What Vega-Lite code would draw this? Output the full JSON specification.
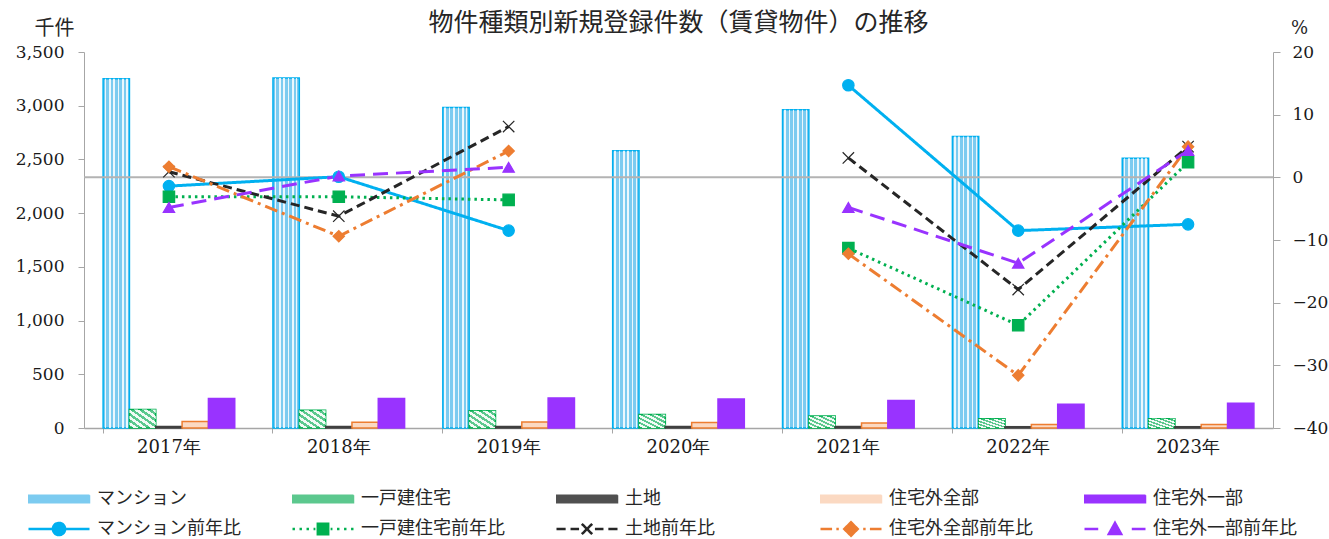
{
  "$schema": "https://vega.github.io/schema/vega-lite/v6.json",
  "width": 1189,
  "height": 376,
  "autosize": {"type": "none"},
  "padding": {"left": 84, "top": 52, "right": 56, "bottom": 111},
  "background": "white",
  "title": {"text": "物件種類別新規登録件数（賃貸物件）の推移", "font": "Noto Sans CJK JP", "fontSize": 25, "fontWeight": "normal", "color": "#262626", "anchor": "middle", "offset": 10, "dy": 28},
  "config": {"view": {"stroke": null}, "axis": {"grid": false}},
  "datasets": {
    "bars": [
      {"year": "2017年", "series": "マンション", "value": 3251},
      {"year": "2017年", "series": "一戸建住宅", "value": 172},
      {"year": "2017年", "series": "土地", "value": 15},
      {"year": "2017年", "series": "住宅外全部", "value": 60},
      {"year": "2017年", "series": "住宅外一部", "value": 274},
      {"year": "2018年", "series": "マンション", "value": 3258},
      {"year": "2018年", "series": "一戸建住宅", "value": 166},
      {"year": "2018年", "series": "土地", "value": 14},
      {"year": "2018年", "series": "住宅外全部", "value": 54},
      {"year": "2018年", "series": "住宅外一部", "value": 275},
      {"year": "2019年", "series": "マンション", "value": 2984},
      {"year": "2019年", "series": "一戸建住宅", "value": 160},
      {"year": "2019年", "series": "土地", "value": 15},
      {"year": "2019年", "series": "住宅外全部", "value": 56},
      {"year": "2019年", "series": "住宅外一部", "value": 280},
      {"year": "2020年", "series": "マンション", "value": 2580},
      {"year": "2020年", "series": "一戸建住宅", "value": 125},
      {"year": "2020年", "series": "土地", "value": 14},
      {"year": "2020年", "series": "住宅外全部", "value": 52},
      {"year": "2020年", "series": "住宅外一部", "value": 270},
      {"year": "2021年", "series": "マンション", "value": 2962},
      {"year": "2021年", "series": "一戸建住宅", "value": 111},
      {"year": "2021年", "series": "土地", "value": 14},
      {"year": "2021年", "series": "住宅外全部", "value": 46},
      {"year": "2021年", "series": "住宅外一部", "value": 257},
      {"year": "2022年", "series": "マンション", "value": 2713},
      {"year": "2022年", "series": "一戸建住宅", "value": 85},
      {"year": "2022年", "series": "土地", "value": 12},
      {"year": "2022年", "series": "住宅外全部", "value": 32},
      {"year": "2022年", "series": "住宅外一部", "value": 222},
      {"year": "2023年", "series": "マンション", "value": 2512},
      {"year": "2023年", "series": "一戸建住宅", "value": 87},
      {"year": "2023年", "series": "土地", "value": 12},
      {"year": "2023年", "series": "住宅外全部", "value": 33},
      {"year": "2023年", "series": "住宅外一部", "value": 231}
    ],
    "ratios": [
      {"year": "2017年", "period": "A", "series": "マンション前年比", "value": -1.4},
      {"year": "2017年", "period": "A", "series": "一戸建住宅前年比", "value": -3.1},
      {"year": "2017年", "period": "A", "series": "土地前年比", "value": 0.9},
      {"year": "2017年", "period": "A", "series": "住宅外全部前年比", "value": 1.7},
      {"year": "2017年", "period": "A", "series": "住宅外一部前年比", "value": -4.8},
      {"year": "2018年", "period": "A", "series": "マンション前年比", "value": 0.1},
      {"year": "2018年", "period": "A", "series": "一戸建住宅前年比", "value": -3.1},
      {"year": "2018年", "period": "A", "series": "土地前年比", "value": -6.2},
      {"year": "2018年", "period": "A", "series": "住宅外全部前年比", "value": -9.4},
      {"year": "2018年", "period": "A", "series": "住宅外一部前年比", "value": 0.2},
      {"year": "2019年", "period": "A", "series": "マンション前年比", "value": -8.5},
      {"year": "2019年", "period": "A", "series": "一戸建住宅前年比", "value": -3.6},
      {"year": "2019年", "period": "A", "series": "土地前年比", "value": 8.1},
      {"year": "2019年", "period": "A", "series": "住宅外全部前年比", "value": 4.2},
      {"year": "2019年", "period": "A", "series": "住宅外一部前年比", "value": 1.6},
      {"year": "2021年", "period": "B", "series": "マンション前年比", "value": 14.7},
      {"year": "2021年", "period": "B", "series": "一戸建住宅前年比", "value": -11.3},
      {"year": "2021年", "period": "B", "series": "土地前年比", "value": 3.1},
      {"year": "2021年", "period": "B", "series": "住宅外全部前年比", "value": -12.2},
      {"year": "2021年", "period": "B", "series": "住宅外一部前年比", "value": -4.8},
      {"year": "2022年", "period": "B", "series": "マンション前年比", "value": -8.5},
      {"year": "2022年", "period": "B", "series": "一戸建住宅前年比", "value": -23.6},
      {"year": "2022年", "period": "B", "series": "土地前年比", "value": -17.9},
      {"year": "2022年", "period": "B", "series": "住宅外全部前年比", "value": -31.6},
      {"year": "2022年", "period": "B", "series": "住宅外一部前年比", "value": -13.7},
      {"year": "2023年", "period": "B", "series": "マンション前年比", "value": -7.5},
      {"year": "2023年", "period": "B", "series": "一戸建住宅前年比", "value": 2.4},
      {"year": "2023年", "period": "B", "series": "土地前年比", "value": 4.9},
      {"year": "2023年", "period": "B", "series": "住宅外全部前年比", "value": 4.9},
      {"year": "2023年", "period": "B", "series": "住宅外一部前年比", "value": 4.3}
    ]
  },
  "layer": [
    {
      "data": {"name": "bars"},
      "encoding": {
        "x": {"field": "year", "type": "nominal", "sort": null,
          "scale": {"paddingInner": 0.225, "paddingOuter": 0.1125},
          "axis": {"title": null, "labelAngle": 0, "labelFont": "DejaVu Serif", "labelFontSize": 18, "labelColor": "#1a1a1a", "ticks": false, "domainColor": "#a6a6a6", "domainWidth": 1.5, "labelPadding": 10}},
        "xOffset": {"field": "series", "type": "nominal",
          "scale": {"domain": ["マンション", "一戸建住宅", "土地", "住宅外全部", "住宅外一部"], "paddingInner": 0, "paddingOuter": 0}},
        "y": {"field": "value", "type": "quantitative",
          "scale": {"domain": [0, 3500], "nice": false},
          "axis": {"title": "千件", "titleAngle": 0, "titleFont": "Noto Sans CJK JP", "titleFontSize": 20, "titleFontWeight": "normal", "titleColor": "#262626", "titleX": -30, "titleY": -24, "titleAlign": "center", "titleBaseline": "middle",
            "values": [0, 500, 1000, 1500, 2000, 2500, 3000, 3500], "format": ",.0f", "labelFont": "DejaVu Serif", "labelFontSize": 17, "labelColor": "#1a1a1a", "tickSize": 6, "tickColor": "#a6a6a6", "domainColor": "#a6a6a6", "labelPadding": 14}}
      },
      "layer": [
        {
          "mark": {"type": "bar", "strokeWidth": 1.5},
          "encoding": {
            "color": {"field": "series", "type": "nominal",
              "scale": {"domain": ["マンション", "一戸建住宅", "土地", "住宅外全部", "住宅外一部", "マンション前年比", "一戸建住宅前年比", "土地前年比", "住宅外全部前年比", "住宅外一部前年比"],
                        "range": ["#7ccbf0", "#5cc88e", "#505050", "#fbd9c2", "#9933ff", "#00b0f0", "#00b050", "#262626", "#ed7d31", "#9933ff"]},
              "legend": {"title": null, "orient": "none", "legendX": -56, "legendY": 435, "direction": "horizontal", "columns": 5, "gridAlign": "all",
                "clipHeight": 24, "rowPadding": 6, "columnPadding": 51, "labelOffset": 51, "padding": 0,
                "labelFont": "Noto Sans CJK JP", "labelFontSize": 18, "labelColor": "#262626", "labelLimit": 300,
                "encode": {"symbols": {
                  "update": {
                  "x": {"value": 31},
                  "size": {"value": 3721},
                  "shape": {"signal": "['M-1,-0.12H1V0.12H-1Z','M-1,-0.12H1V0.12H-1Z','M-1,-0.12H1V0.12H-1Z','M-1,-0.12H1V0.12H-1Z','M-1,-0.12H1V0.12H-1Z','M-1,0H1M-0.2,0A0.2,0.2,0,1,1,0.2,0A0.2,0.2,0,1,1,-0.2,0Z','M-1,0H-0.92M-0.77,0H-0.69M-0.54,0H-0.46M-0.31,0H-0.25M0.25,0H0.31M0.46,0H0.54M0.69,0H0.77M0.92,0H1M-0.17,-0.17H0.17V0.17H-0.17Z','M-1,0H-0.7M-0.54,0H-0.26M0.26,0H0.54M0.7,0H1M-0.17,-0.17L0.17,0.17M-0.17,0.17L0.17,-0.17','M-1,0H-0.62M-0.48,0H-0.4M0.4,0H0.48M0.62,0H1M0,-0.22L0.22,0L0,0.22L-0.22,0Z','M-1,0H-0.55M0.55,0H1M0,-0.2L0.2,0.16L-0.2,0.16Z'][datum.index]"},
                  "strokeDash": {"value": [1, 0]},
                  "strokeWidth": {"signal": "datum.index < 5 ? 1.5 : 2.5"},
                  "opacity": {"value": 1},
                  "fillOpacity": {"value": 1},
                  "strokeOpacity": {"value": 1}
                }}}}},
            "stroke": {"field": "series", "type": "nominal",
              "scale": {"domain": ["マンション", "一戸建住宅", "土地", "住宅外全部", "住宅外一部", "マンション前年比", "一戸建住宅前年比", "土地前年比", "住宅外全部前年比", "住宅外一部前年比"],
                        "range": ["#00b0f0", "#00b050", "#404040", "#ed7d31", "#9933ff", "#00b0f0", "#00b050", "#262626", "#ed7d31", "#9933ff"]},
              "legend": null}
          }
        },
        {
          "transform": [{"filter": "datum.series === 'マンション'"}],
          "mark": {"type": "bar", "strokeWidth": 0,
            "fill": {"gradient": "linear", "x1": 0, "y1": 0, "x2": 1, "y2": 0, "stops": [
              {"offset": 0, "color": "rgba(255,255,255,0)"},
              {"offset": 0.06, "color": "rgba(255,255,255,0)"}, {"offset": 0.06, "color": "rgba(255,255,255,0.85)"}, {"offset": 0.12, "color": "rgba(255,255,255,0.85)"}, {"offset": 0.12, "color": "rgba(255,255,255,0)"},
              {"offset": 0.227, "color": "rgba(255,255,255,0)"}, {"offset": 0.227, "color": "rgba(255,255,255,0.85)"}, {"offset": 0.287, "color": "rgba(255,255,255,0.85)"}, {"offset": 0.287, "color": "rgba(255,255,255,0)"},
              {"offset": 0.393, "color": "rgba(255,255,255,0)"}, {"offset": 0.393, "color": "rgba(255,255,255,0.85)"}, {"offset": 0.453, "color": "rgba(255,255,255,0.85)"}, {"offset": 0.453, "color": "rgba(255,255,255,0)"},
              {"offset": 0.56, "color": "rgba(255,255,255,0)"}, {"offset": 0.56, "color": "rgba(255,255,255,0.85)"}, {"offset": 0.62, "color": "rgba(255,255,255,0.85)"}, {"offset": 0.62, "color": "rgba(255,255,255,0)"},
              {"offset": 0.727, "color": "rgba(255,255,255,0)"}, {"offset": 0.727, "color": "rgba(255,255,255,0.85)"}, {"offset": 0.787, "color": "rgba(255,255,255,0.85)"}, {"offset": 0.787, "color": "rgba(255,255,255,0)"},
              {"offset": 0.88, "color": "rgba(255,255,255,0)"}, {"offset": 0.88, "color": "rgba(255,255,255,0.85)"}, {"offset": 0.93, "color": "rgba(255,255,255,0.85)"}, {"offset": 0.93, "color": "rgba(255,255,255,0)"},
              {"offset": 1, "color": "rgba(255,255,255,0)"}]}}
        },
        {
          "transform": [{"filter": "datum.series === '一戸建住宅'"}],
          "mark": {"type": "bar", "strokeWidth": 0,
            "fill": {"gradient": "linear", "x1": 0, "y1": 1, "x2": 1, "y2": 0, "stops": [
              {"offset": 0, "color": "rgba(255,255,255,0)"}, {"offset": 0.08, "color": "rgba(255,255,255,0)"}, {"offset": 0.08, "color": "rgba(255,255,255,0.92)"}, {"offset": 0.167, "color": "rgba(255,255,255,0.92)"},
              {"offset": 0.167, "color": "rgba(255,255,255,0)"}, {"offset": 0.247, "color": "rgba(255,255,255,0)"}, {"offset": 0.247, "color": "rgba(255,255,255,0.92)"}, {"offset": 0.333, "color": "rgba(255,255,255,0.92)"},
              {"offset": 0.333, "color": "rgba(255,255,255,0)"}, {"offset": 0.413, "color": "rgba(255,255,255,0)"}, {"offset": 0.413, "color": "rgba(255,255,255,0.92)"}, {"offset": 0.5, "color": "rgba(255,255,255,0.92)"},
              {"offset": 0.5, "color": "rgba(255,255,255,0)"}, {"offset": 0.58, "color": "rgba(255,255,255,0)"}, {"offset": 0.58, "color": "rgba(255,255,255,0.92)"}, {"offset": 0.667, "color": "rgba(255,255,255,0.92)"},
              {"offset": 0.667, "color": "rgba(255,255,255,0)"}, {"offset": 0.747, "color": "rgba(255,255,255,0)"}, {"offset": 0.747, "color": "rgba(255,255,255,0.92)"}, {"offset": 0.833, "color": "rgba(255,255,255,0.92)"},
              {"offset": 0.833, "color": "rgba(255,255,255,0)"}, {"offset": 0.913, "color": "rgba(255,255,255,0)"}, {"offset": 0.913, "color": "rgba(255,255,255,0.92)"}, {"offset": 1, "color": "rgba(255,255,255,0.92)"}]}}
        }
      ]
    },
    {
      "encoding": {
        "y": {"field": "value", "type": "quantitative",
          "scale": {"domain": [-40, 20], "nice": false},
          "axis": {"orient": "right", "title": "%", "titleAngle": 0, "titleFont": "DejaVu Serif", "titleFontSize": 18, "titleFontWeight": "normal", "titleColor": "#262626", "titleX": 26, "titleY": -24, "titleAlign": "center", "titleBaseline": "middle",
            "values": [-40, -30, -20, -10, 0, 10, 20], "labelFont": "DejaVu Serif", "labelFontSize": 17, "labelColor": "#1a1a1a", "tickSize": 7, "tickColor": "#a6a6a6", "domainColor": "#a6a6a6", "labelPadding": 12}}
      },
      "layer": [
        {
          "data": {"values": [{"value": 0}]},
          "mark": {"type": "rule", "color": "#b3b3b3", "strokeWidth": 2}
        },
        {
          "data": {"name": "ratios"},
          "mark": {"type": "line", "strokeWidth": 3},
          "encoding": {
            "x": {"field": "year", "type": "nominal", "sort": null,
              "axis": {"orient": "bottom", "title": null, "labels": false, "domain": false, "ticks": true, "bandPosition": 0, "tickSize": 5, "tickColor": "#a6a6a6"}},
            "detail": {"field": "period"},
            "color": {"field": "series", "type": "nominal",
              "scale": {"domain": ["マンション", "一戸建住宅", "土地", "住宅外全部", "住宅外一部", "マンション前年比", "一戸建住宅前年比", "土地前年比", "住宅外全部前年比", "住宅外一部前年比"],
                        "range": ["#7ccbf0", "#5cc88e", "#505050", "#fbd9c2", "#9933ff", "#00b0f0", "#00b050", "#262626", "#ed7d31", "#9933ff"]},
              "legend": null},
            "strokeDash": {"field": "series", "type": "nominal",
              "scale": {"domain": ["マンション前年比", "一戸建住宅前年比", "土地前年比", "住宅外全部前年比", "住宅外一部前年比"],
                        "range": [[1, 0], [2.5, 4], [9, 5], [13, 5, 3, 5], [15, 8]]},
              "legend": null}
          }
        },
        {
          "data": {"name": "ratios"},
          "mark": {"type": "point", "filled": true, "size": 130, "strokeWidth": 1.2, "opacity": 1},
          "encoding": {
            "x": {"field": "year", "type": "nominal", "sort": null,
              "axis": {"orient": "bottom", "title": null, "labels": false, "domain": false, "ticks": true, "bandPosition": 0, "tickSize": 5, "tickColor": "#a6a6a6"}},
            "color": {"field": "series", "type": "nominal",
              "scale": {"domain": ["マンション", "一戸建住宅", "土地", "住宅外全部", "住宅外一部", "マンション前年比", "一戸建住宅前年比", "土地前年比", "住宅外全部前年比", "住宅外一部前年比"],
                        "range": ["#7ccbf0", "#5cc88e", "#505050", "#fbd9c2", "#9933ff", "#00b0f0", "#00b050", "#262626", "#ed7d31", "#9933ff"]},
              "legend": null},
            "stroke": {"field": "series", "type": "nominal",
              "scale": {"domain": ["マンション", "一戸建住宅", "土地", "住宅外全部", "住宅外一部", "マンション前年比", "一戸建住宅前年比", "土地前年比", "住宅外全部前年比", "住宅外一部前年比"],
                        "range": ["#00b0f0", "#00b050", "#404040", "#ed7d31", "#9933ff", "#00b0f0", "#00b050", "#262626", "#ed7d31", "#9933ff"]},
              "legend": null},
            "shape": {"field": "series", "type": "nominal",
              "scale": {"domain": ["マンション前年比", "一戸建住宅前年比", "土地前年比", "住宅外全部前年比", "住宅外一部前年比"],
                        "range": ["circle", "square", "M-1,-1L1,1M-1,1L1,-1", "diamond", "triangle-up"]},
              "legend": null}
          }
        }
      ]
    }
  ],
  "resolve": {"scale": {"y": "independent"}, "axis": {"x": "independent"}}
}
